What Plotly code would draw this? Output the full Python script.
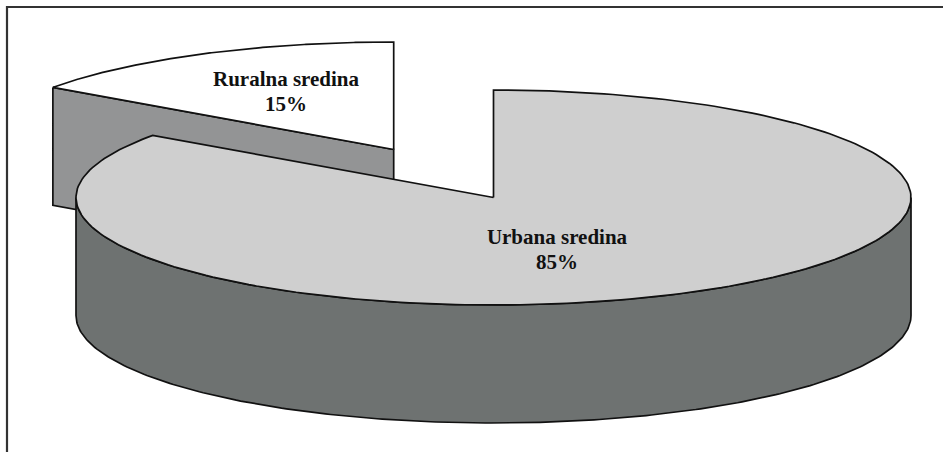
import numpy as np
import plotly.graph_objects as go

# Data
categories = ["Urbana sredina", "Ruralna sredina"]
shares = [84.8, 15.2]

# Drawing geometry and style
WIDTH, HEIGHT = 943, 452
RX, RY, DEPTH = 417.5, 107.5, 118
URBAN_CENTRE = (493.5, 197.5)
RURAL_CENTRE = (393.7, 149.5)
TOP_COLOURS = ["#cfcfcf", "#ffffff"]
SIDE_COLOURS = ["#6e7271", "#939495"]
EDGE = "#111111"


def rim(centre, a0, a1, drop=0.0):
    t = np.radians(np.linspace(a0, a1, 240))
    return centre[0] + RX * np.sin(t), centre[1] - RY * np.cos(t) + drop


def poly(fig, x, y, fill):
    fig.add_trace(go.Scatter(
        x=np.append(x, x[0]), y=np.append(y, y[0]), mode="lines", fill="toself",
        fillcolor=fill, line=dict(color=EDGE, width=1.7), hoverinfo="skip",
        showlegend=False))


split = 360 * shares[0] / sum(shares)
fig = go.Figure()

# Rural slice: cut face, then top
rx_, ry_ = rim(RURAL_CENTRE, split, split)
poly(fig,
     np.array([rx_[0], RURAL_CENTRE[0], RURAL_CENTRE[0], rx_[0]]),
     np.array([ry_[0], RURAL_CENTRE[1], RURAL_CENTRE[1] + DEPTH, ry_[0] + DEPTH]),
     SIDE_COLOURS[1])
ax, ay = rim(RURAL_CENTRE, split, 360)
poly(fig, np.r_[RURAL_CENTRE[0], ax], np.r_[RURAL_CENTRE[1], ay], TOP_COLOURS[1])

# Urban slice: front wall, then top
fx, fy = rim(URBAN_CENTRE, 90, 270)
bx, by = rim(URBAN_CENTRE, 270, 90, DEPTH)
poly(fig, np.r_[fx, bx], np.r_[fy, by], SIDE_COLOURS[0])
ax, ay = rim(URBAN_CENTRE, 0, split)
poly(fig, np.r_[URBAN_CENTRE[0], ax], np.r_[URBAN_CENTRE[1], ay], TOP_COLOURS[0])

# Labels: name and share on their own lines
label_pos = [(557, 239, 264), (286, 81, 106)]
for name, v, (lx, ly1, ly2) in zip(categories, shares, label_pos):
    fig.add_trace(go.Scatter(
        x=[lx, lx], y=[ly1, ly2], mode="text",
        text=[f"<b>{name}</b>", f"<b>{round(v)}%</b>"],
        textposition="middle center",
        textfont=dict(family="Liberation Serif", size=21, color="#111111"),
        hoverinfo="skip", showlegend=False))

fig.update_layout(
    width=WIDTH, height=HEIGHT, margin=dict(l=0, r=0, t=0, b=0),
    paper_bgcolor="white", plot_bgcolor="white",
    xaxis=dict(range=[0, WIDTH], visible=False, fixedrange=True),
    yaxis=dict(range=[HEIGHT, 0], visible=False, fixedrange=True),
    shapes=[dict(type="rect", xref="x", yref="y", x0=7, y0=7, x1=WIDTH + 10, y1=HEIGHT + 10,
                 line=dict(color="#333333", width=2.2), layer="below")],
)
fig.write_html("out.html", config=dict(displayModeBar=False),
               post_script="document.body.style.margin='0';document.body.style.overflow='hidden';")
